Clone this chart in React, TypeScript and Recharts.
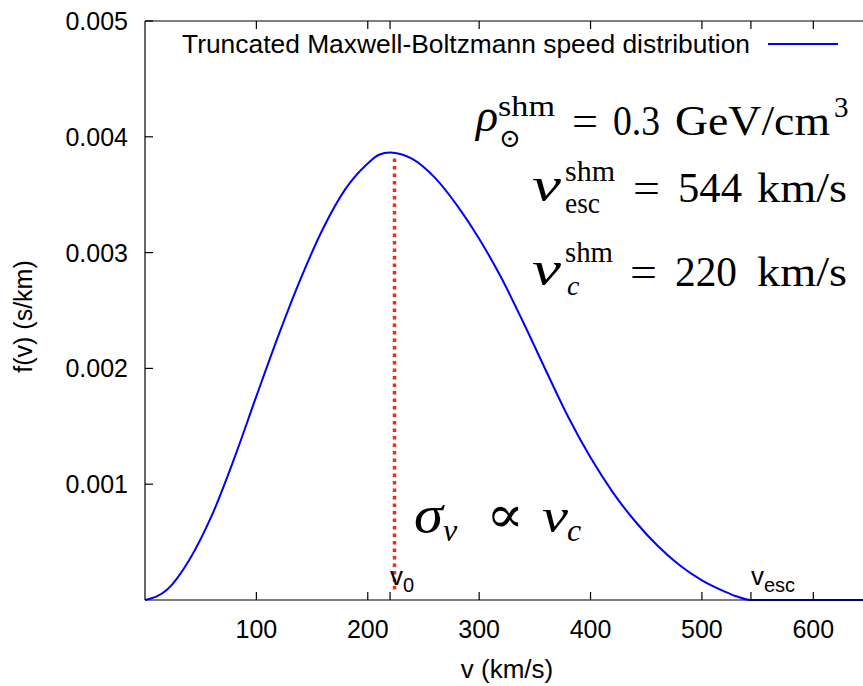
import React from 'react';
import { LineChart, Line, XAxis, YAxis, ReferenceLine, Legend } from 'recharts';

// speed (km/s) and f(v) (s/km)
const SPEED = [0, 20, 40, 60, 80, 100, 120, 140, 160, 180, 200, 210, 220, 230, 240, 260, 280, 300, 320, 340, 360, 380, 400, 420, 440, 460, 480, 500, 520, 530, 544, 600, 650];
const DENSITY = [0, 0.00009, 0.00035, 0.00073, 0.00122, 0.00176, 0.00229, 0.00278, 0.00321, 0.00355, 0.00377, 0.003845, 0.003865, 0.00385, 0.00381, 0.00365, 0.00341, 0.00312, 0.00278, 0.00239, 0.00198, 0.00158, 0.00123, 0.00093, 0.00068, 0.00047, 0.0003, 0.00017, 0.000075, 0.000035, 0, 0, 0];

const X_TICKS = [100, 200, 300, 400, 500, 600];
const Y_TICKS = [0.001, 0.002, 0.003, 0.004, 0.005];
const V0 = 220;
const VESC = 544;
// dotted marker under the peak
const V0_LINE = 224;
const V0_LINE_BOTTOM = 0.00009;
const V0_LINE_TOP = 0.00384;

const SERIES_NAME = 'Truncated Maxwell-Boltzmann speed distribution';

const data = SPEED.map((v, i) => ({ v, f: DENSITY[i] }));
const ALL_X_TICKS = [...X_TICKS, V0, VESC].sort((a, b) => a - b);

const SANS = '"Liberation Sans", Arial, Helvetica, sans-serif';
const SERIF = '"Liberation Serif", "DejaVu Serif", serif';
const INK = '#000';
const TICK = 8;
const AXIS_W = 1.2;

const BottomTick = ({ x, y, payload }: any) => (
  <g>
    <line x1={x} y1={y} x2={x} y2={y - TICK} stroke={INK} strokeWidth={AXIS_W} />
    {X_TICKS.includes(payload.value) && (
      <text x={x} y={y + 38} textAnchor="middle" fontSize={25} fontFamily={SANS} fill={INK}>
        {payload.value}
      </text>
    )}
  </g>
);

const TopTick = ({ x, y }: any) => (
  <line x1={x} y1={y} x2={x} y2={y + TICK} stroke={INK} strokeWidth={AXIS_W} />
);

const LeftTick = ({ x, y, payload }: any) => (
  <g>
    <line x1={x} y1={y} x2={x + TICK} y2={y} stroke={INK} strokeWidth={AXIS_W} />
    <text x={x - 17} y={y + 9} textAnchor="end" fontSize={25} fontFamily={SANS} fill={INK}>
      {payload.value.toFixed(3)}
    </text>
  </g>
);

const RightTick = ({ x, y }: any) => (
  <line x1={x} y1={y} x2={x - TICK} y2={y} stroke={INK} strokeWidth={AXIS_W} />
);

const markerLabel = (sub: string) => (props: any) => {
  const vb = props.viewBox;
  return (
    <text x={vb.x} y={vb.y + vb.height - 15} fontSize={26} fontFamily={SANS} fill={INK}>
      v<tspan fontSize={20} dy={7}>{sub}</tspan>
    </text>
  );
};

const renderLegend = ({ payload }: any) => {
  const item = payload && payload[0];
  return (
    <svg width={880} height={60}>
      <text x={182} y={53} fontSize={26} fontFamily={SANS} fill={INK} textLength={568} lengthAdjust="spacingAndGlyphs">
        {item ? item.value : SERIES_NAME}
      </text>
      <line x1={768} x2={838} y1={44} y2={44} stroke={item ? item.color : '#0000ff'} strokeWidth={2} />
    </svg>
  );
};

const Tex = ({ x, y, size = 42, italic = false, len, children }: any) => (
  <text
    x={x}
    y={y}
    fontSize={size}
    fontFamily={SERIF}
    fontStyle={italic ? 'italic' : 'normal'}
    textLength={len}
    lengthAdjust={len ? 'spacingAndGlyphs' : undefined}
    fill={INK}
  >
    {children}
  </text>
);

export default function App() {
  return (
    <div style={{ position: 'absolute', left: 0, top: 0, width: 863, height: 686, overflow: 'hidden', background: '#fff' }}>
      <LineChart width={880} height={686} data={data} margin={{ top: 20, right: 10, bottom: 0, left: 0 }}>
        <XAxis
          xAxisId="bottom"
          dataKey="v"
          type="number"
          domain={[0, 650]}
          ticks={ALL_X_TICKS}
          interval={0}
          height={86}
          tickSize={0}
          tickMargin={0}
          tickLine={false}
          tick={<BottomTick />}
          axisLine={{ stroke: INK, strokeWidth: AXIS_W }}
          label={(p: any) => (
            <text x={p.viewBox.x + p.viewBox.width / 2} y={p.viewBox.y + 78} textAnchor="middle" fontSize={26} fontFamily={SANS} fill={INK}>
              v (km/s)
            </text>
          )}
        />
        <XAxis
          xAxisId="top"
          orientation="top"
          dataKey="v"
          type="number"
          domain={[0, 650]}
          ticks={ALL_X_TICKS}
          interval={0}
          height={1}
          tickSize={0}
          tickMargin={0}
          tickLine={false}
          tick={<TopTick />}
          axisLine={{ stroke: INK, strokeWidth: AXIS_W }}
        />
        <YAxis
          yAxisId="left"
          type="number"
          domain={[0, 0.005]}
          ticks={Y_TICKS}
          interval={0}
          width={145}
          tickSize={0}
          tickMargin={0}
          tickLine={false}
          tick={<LeftTick />}
          axisLine={{ stroke: INK, strokeWidth: AXIS_W }}
          label={(p: any) => (
            <text
              transform={`translate(${p.viewBox.x + 32}, ${p.viewBox.y + p.viewBox.height / 2 + 6}) rotate(-90)`}
              textAnchor="middle"
              fontSize={25}
              fontFamily={SANS}
              fill={INK}
            >
              f(v) (s/km)
            </text>
          )}
        />
        <YAxis
          yAxisId="right"
          orientation="right"
          type="number"
          domain={[0, 0.005]}
          ticks={Y_TICKS}
          interval={0}
          width={1}
          tickSize={0}
          tickMargin={0}
          tickLine={false}
          tick={<RightTick />}
          axisLine={{ stroke: INK, strokeWidth: AXIS_W }}
        />
        <Legend
          content={renderLegend}
          layout="horizontal"
          verticalAlign="middle"
          align="center"
          wrapperStyle={{ top: 0, left: 0, width: 880, height: 60, pointerEvents: 'none' }}
        />
        <ReferenceLine
          xAxisId="bottom"
          yAxisId="left"
          segment={[{ x: V0_LINE, y: V0_LINE_BOTTOM }, { x: V0_LINE, y: V0_LINE_TOP }]}
          stroke="#e8311a"
          strokeWidth={3.5}
          strokeDasharray="3.5 4"
        />
        <ReferenceLine xAxisId="bottom" yAxisId="left" x={V0} stroke="none" label={markerLabel('0')} />
        <ReferenceLine xAxisId="bottom" yAxisId="left" x={VESC} stroke="none" label={markerLabel('esc')} />
        <Line
          xAxisId="bottom"
          yAxisId="left"
          type="monotone"
          dataKey="f"
          name={SERIES_NAME}
          stroke="#0000ff"
          strokeWidth={2}
          dot={false}
          activeDot={false}
          isAnimationActive={false}
        />
      </LineChart>
      <svg style={{ position: 'absolute', left: 0, top: 0, pointerEvents: 'none' }} width={863} height={686}>
        <Tex x={476} y={131} size={46} italic>ρ</Tex>
        <Tex x={498} y={116} size={29} len={57}>shm</Tex>
        <Tex x={499} y={147} size={26}>⊙</Tex>
        <Tex x={572} y={135} len={26}>=</Tex>
        <Tex x={613} y={135} len={47}>0.3</Tex>
        <Tex x={675} y={135} len={155}>GeV/cm</Tex>
        <Tex x={834} y={117} size={29}>3</Tex>

        <Tex x={532} y={201} size={48} italic len={29}>v</Tex>
        <Tex x={565} y={181} size={29} len={50}>shm</Tex>
        <Tex x={565} y={213} size={29} len={35}>esc</Tex>
        <Tex x={633} y={202} len={27}>=</Tex>
        <Tex x={678} y={202} len={64}>544</Tex>
        <Tex x={757} y={202} len={90}>km/s</Tex>

        <Tex x={532} y={285} size={48} italic len={29}>v</Tex>
        <Tex x={565} y={262} size={29} len={48}>shm</Tex>
        <Tex x={567} y={295} size={28} italic>c</Tex>
        <Tex x={630} y={286} len={27}>=</Tex>
        <Tex x={675} y={286} len={62}>220</Tex>
        <Tex x={757} y={286} len={90}>km/s</Tex>

        <Tex x={414} y={532} size={52} italic len={29}>σ</Tex>
        <Tex x={443} y={541} size={32} italic>v</Tex>
        <Tex x={486} y={532} size={52} len={38}>∝</Tex>
        <Tex x={542} y={532} size={48} italic len={26}>v</Tex>
        <Tex x={567} y={541} size={32} italic>c</Tex>
      </svg>
    </div>
  );
}
